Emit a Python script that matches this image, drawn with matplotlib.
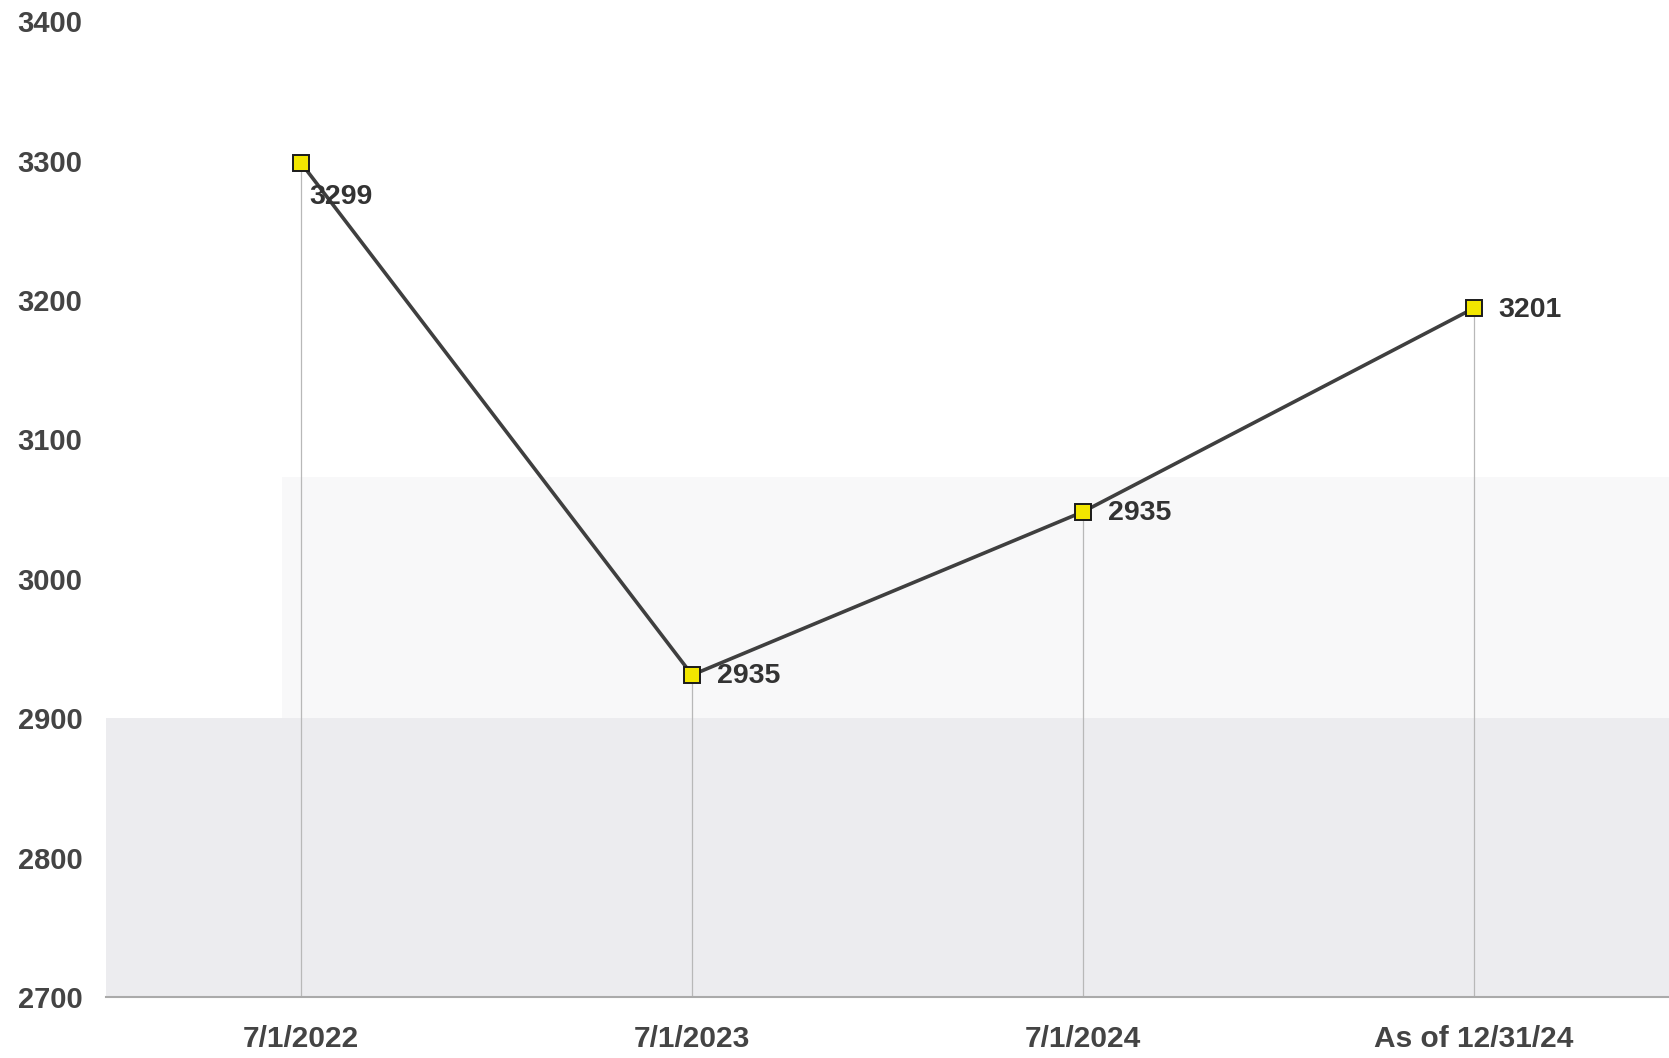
import matplotlib
matplotlib.use("Agg")
import matplotlib.pyplot as plt

categories = ["7/1/2022", "7/1/2023", "7/1/2024", "As of 12/31/24"]
plotted_values = [3298, 2931, 3048, 3194]
label_texts = ["3299", "2935", "2935", "3201"]
yticks = [2700, 2800, 2900, 3000, 3100, 3200, 3300, 3400]

plt.rcParams['font.family'] = ['Liberation Sans', 'DejaVu Sans']

fig = plt.figure(figsize=(16.69, 10.58), dpi=100)
ax = fig.add_axes([0.0635, 0.0577, 0.9365, 0.9223])

x = list(range(len(categories)))

# scanned background tint
ax.axhspan(2700, 2900, color='#ececef', zorder=0, lw=0)
ax.fill_between([-0.05, 3.5], 2900, 3073, color='#f8f8f9', zorder=0, lw=0)

# drop lines
ax.vlines(x, 2700, plotted_values, color='#b8b8b8', lw=0.9, zorder=1)

ax.plot(x, plotted_values, color='#3f3f3f', lw=2.6, zorder=2,
        marker='s', markersize=11, markerfacecolor='#f2e600',
        markeredgecolor='#1a1a1a', markeredgewidth=1.4)

offsets = [(6, -24), (18, -1), (18, -1), (18, -1)]
for xi, yv, t, off in zip(x, plotted_values, label_texts, offsets):
    ax.annotate(t, (xi, yv), xytext=off, textcoords='offset points',
                ha='left', va='center', fontsize=20.5, fontweight='bold',
                color='#333333', zorder=3)

ax.set_xlim(-0.5, 3.5)
ax.set_ylim(2700, 3400)
ax.set_yticks(yticks)
ax.set_yticklabels([str(v) for v in yticks])
ax.set_xticks(x)
ax.set_xticklabels(categories)
ax.tick_params(axis='both', length=0, labelcolor='#444444')
ax.tick_params(axis='y', pad=17, labelsize=21)
ax.tick_params(axis='x', pad=20, labelsize=21.5)
for lbl in ax.get_xticklabels() + ax.get_yticklabels():
    lbl.set_fontweight('bold')

for s in ['top', 'right', 'left']:
    ax.spines[s].set_visible(False)
ax.spines['bottom'].set_color('#aaaaaa')
ax.spines['bottom'].set_linewidth(1.5)
ax.set_facecolor('white')

fig.savefig('out.png', dpi=100)
